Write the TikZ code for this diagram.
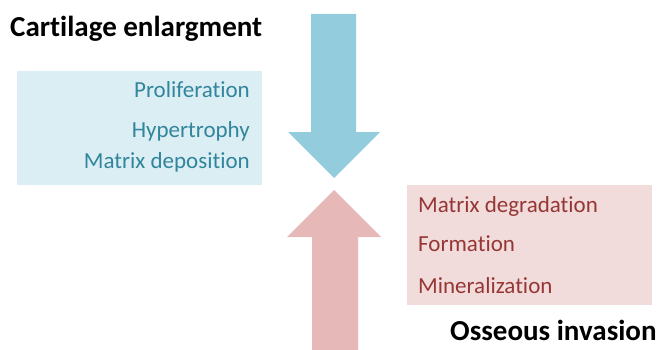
\documentclass[tikz,border=0pt]{standalone}
\usepackage{fontspec}
\setmainfont{Carlito}[Ligatures=NoCommon]
\definecolor{arrowblue}{HTML}{93CDDD}
\definecolor{boxblue}{HTML}{DBEEF4}
\definecolor{textblue}{HTML}{31859C}
\definecolor{arrowred}{HTML}{E6B9B8}
\definecolor{boxred}{HTML}{F2DCDB}
\definecolor{textred}{HTML}{953735}

\begin{document}
\begin{tikzpicture}[
  x=1pt,
  y=-1pt,
  title/.style={
    font=\fontsize{29}{31}\selectfont\bfseries,
    inner sep=0pt,
    anchor=base west
  },
  item/.style={
    font=\fontsize{23}{25}\selectfont,
    inner sep=0pt
  },
  blue item/.style={
    item,
    textblue,
    anchor=base east
  },
  red item/.style={
    item,
    textred,
    anchor=base west
  },
]
\useasboundingbox (0,0) rectangle (660,350);
% boxes
\fill[boxblue] (17,71) rectangle (262,185);
\fill[boxred] (407,185) rectangle (652,305);
% arrows
\fill[arrowblue] (311,14) -- (356,14) -- (356,132) -- (380,132)
  -- (334,178) -- (288,132) -- (311,132) -- cycle;
\fill[arrowred] (312,350) -- (358,350) -- (358,237) -- (381,237)
  -- (334,190) -- (287,237) -- (312,237) -- cycle;
% titles
\node[title] (enlarg) at (10,37) {Cartilage enlargment};
\node[title] (invasion) at (450,340) {Osseous invasion};
% items
\node[blue item] (prolif) at (250,98) {Proliferation};
\node[blue item] (hyper) at (250,137) {Hypertrophy};
\node[blue item] (depos) at (250,168) {Matrix deposition};
\node[red item] (degrad) at (418,212) {Matrix degradation};
\node[red item] (form) at (418,251) {Formation};
\node[red item] (miner) at (418,293) {Mineralization};
\end{tikzpicture}
\end{document}
